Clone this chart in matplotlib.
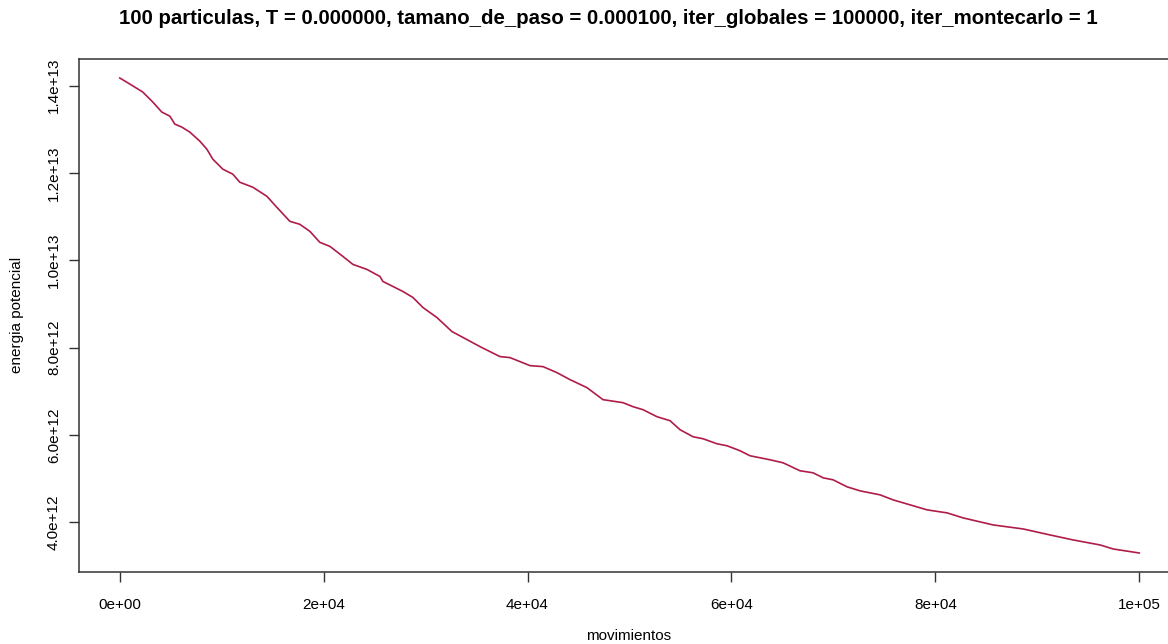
import matplotlib
matplotlib.use("Agg")
import matplotlib.pyplot as plt

# energy trace (x = movimientos, y = energia potencial in 1e12)
movimientos = [0, 981, 2257, 3238, 4122, 4907, 5397, 6084, 6869, 7851, 8538, 9127,
               10108, 11089, 11776, 13052, 14426, 15407, 16683, 17664, 18646, 19627,
               20608, 21884, 22865, 24239, 25515, 25810, 27772, 28754, 29735, 31109,
               32581, 34053, 35329, 37291, 38273, 40235, 41511, 42885, 44161, 45829,
               47399, 49362, 50343, 51325, 52699, 53975, 54956, 56232, 57213, 58587,
               59568, 60844, 61825, 63788, 65064, 66732, 68008, 68989, 69971, 71345,
               72620, 74583, 75859, 77527, 79195, 81158, 82728, 85672, 88616, 91266,
               93523, 96172, 97448, 100000]
energia_e12 = [14.177, 14.039, 13.855, 13.626, 13.396, 13.304, 13.121, 13.052, 12.937,
               12.730, 12.547, 12.317, 12.088, 11.973, 11.788, 11.674, 11.467, 11.214,
               10.893, 10.824, 10.663, 10.411, 10.319, 10.089, 9.906, 9.791, 9.630,
               9.515, 9.285, 9.148, 8.918, 8.688, 8.367, 8.183, 8.022, 7.793, 7.770,
               7.586, 7.563, 7.425, 7.265, 7.081, 6.806, 6.737, 6.645, 6.576, 6.415,
               6.324, 6.117, 5.956, 5.910, 5.795, 5.749, 5.635, 5.520, 5.428, 5.359,
               5.176, 5.130, 5.015, 4.969, 4.808, 4.716, 4.624, 4.509, 4.395, 4.280,
               4.211, 4.096, 3.935, 3.843, 3.705, 3.591, 3.476, 3.384, 3.292]

x_ticks = [0, 20000, 40000, 60000, 80000, 100000]
x_tick_labels = ["0e+00", "2e+04", "4e+04", "6e+04", "8e+04", "1e+05"]
y_ticks = [4e12, 6e12, 8e12, 1e13, 1.2e13, 1.4e13]
y_tick_labels = ["4.0e+12", "6.0e+12", "8.0e+12", "1.0e+13", "1.2e+13", "1.4e+13"]

titulo = ("100 particulas, T = 0.000000, tamano_de_paso = 0.000100, "
          "iter_globales = 100000, iter_montecarlo = 1")

plt.rcParams['font.family'] = ['Liberation Sans', 'DejaVu Sans']

energia = [e * 1e12 for e in energia_e12]

fig = plt.figure(figsize=(11.68, 6.44), dpi=100)
# right edge of the box lies just outside the picture, as in the reference
ax = fig.add_axes([79 / 1168, 72 / 644, 1101 / 1168, 513 / 644])

ax.plot(movimientos, energia, color="#B01C48", linewidth=1.2)

# R style 4% padding on both axes
xmin, xmax = min(movimientos), max(movimientos)
ymin, ymax = min(energia), max(energia)
xpad = 0.04 * (xmax - xmin)
ypad = 0.04 * (ymax - ymin)
ax.set_xlim(xmin - xpad, xmax + xpad)
ax.set_ylim(ymin - ypad, ymax + ypad)

ax.set_xticks(x_ticks)
ax.set_xticklabels(x_tick_labels, fontsize=11)
ax.set_yticks(y_ticks)
ax.set_yticklabels(y_tick_labels, fontsize=11, rotation=90, va="center")
ax.tick_params(direction="out", length=7, width=1, color="#333333")
ax.tick_params(axis="x", pad=12)
ax.tick_params(axis="y", pad=6)

for s in ax.spines.values():
    s.set_linewidth(1.1)
    s.set_color("#333333")

# axis titles placed where R puts them
fig.text(629 / 1168, 1 - 636 / 644, "movimientos", ha="center", va="center", fontsize=11)
fig.text(17 / 1168, 1 - 315 / 644, "energia potencial", ha="center", va="center",
         fontsize=11, rotation=90)
fig.text(608 / 1168, 1 - 18 / 644, titulo, ha="center", va="center",
         fontsize=14.7, fontweight="bold")

fig.savefig("out.png", dpi=100)
